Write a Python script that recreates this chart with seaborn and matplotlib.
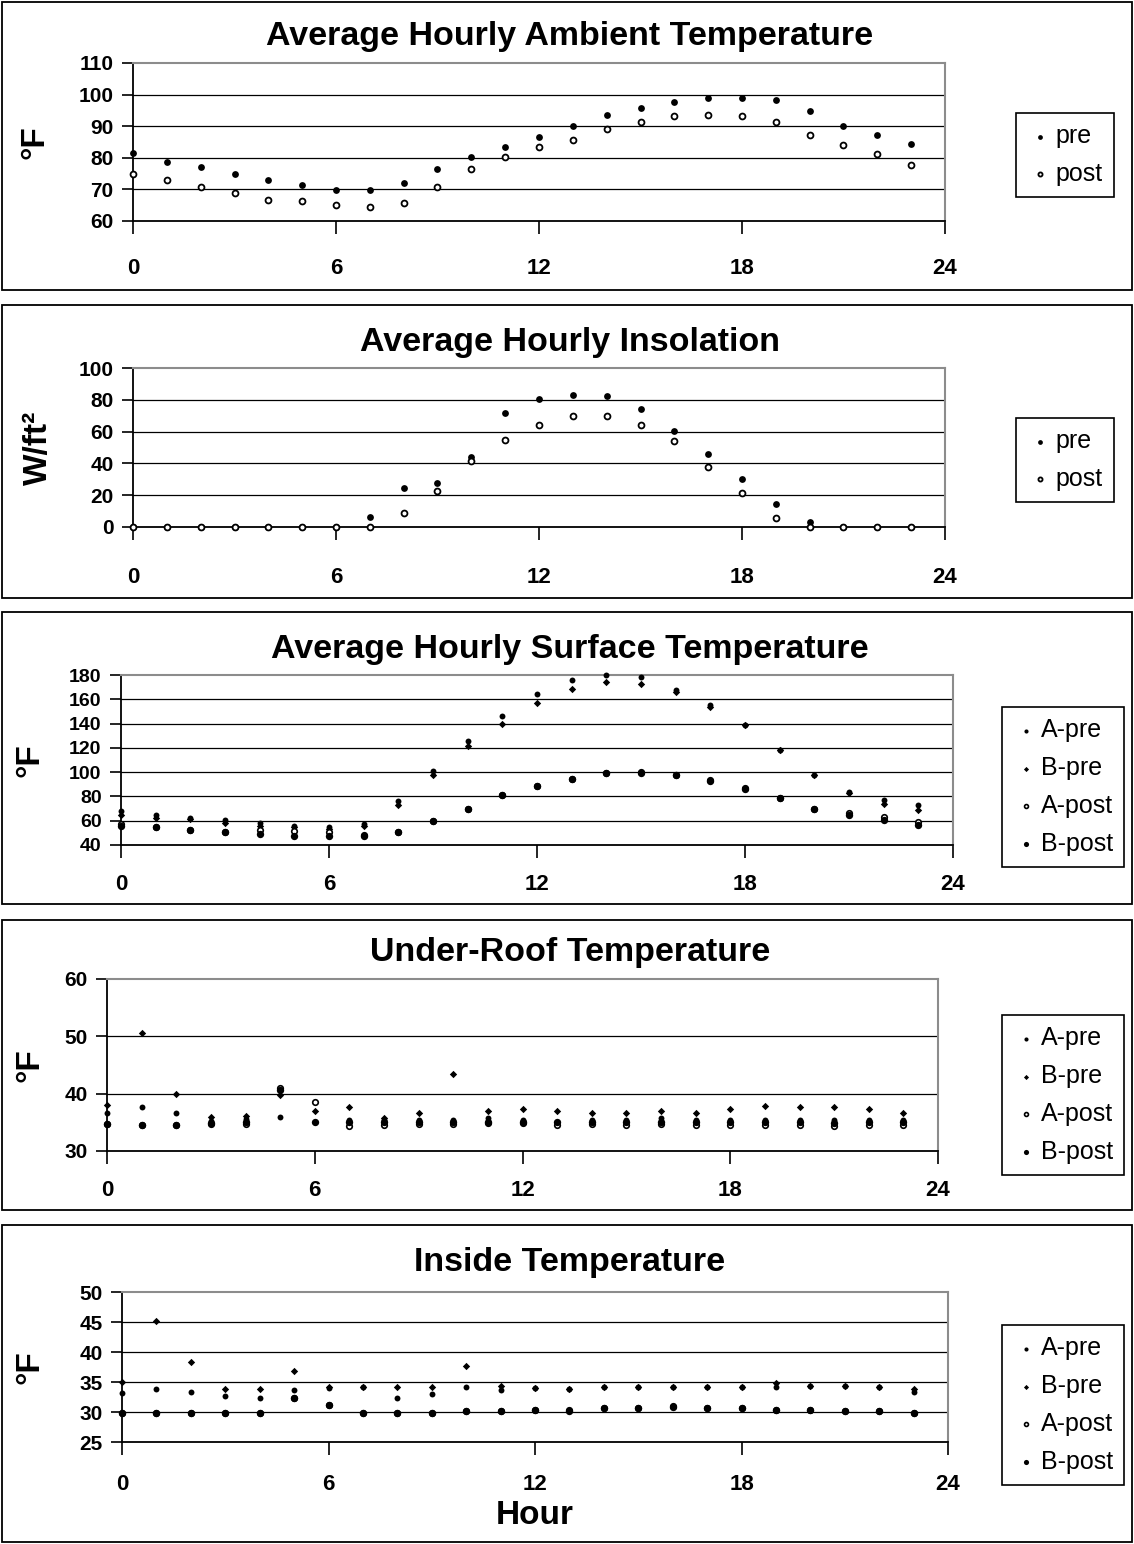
import matplotlib
matplotlib.use('Agg')
import numpy as np
import matplotlib.pyplot as plt
from matplotlib.patches import Rectangle
import seaborn as sns

hours = list(range(24))

# ambient temperature (F)
amb_pre = [81.6, 78.7, 77.0, 74.8, 73.1, 71.4, 69.7, 69.7, 71.9, 76.5, 80.4, 83.4,
           86.7, 90.2, 93.7, 95.9, 97.7, 98.8, 98.8, 98.3, 94.8, 90.2, 87.3, 84.5]
amb_post = [74.8, 73.1, 70.8, 69.0, 66.7, 66.2, 65.0, 64.5, 65.6, 70.8, 76.5, 80.4,
            83.4, 85.6, 89.0, 91.4, 93.1, 93.7, 93.1, 91.4, 87.3, 83.9, 81.1, 77.7]

# insolation (W/ft2)
ins_pre = [0, 0, 0, 0, 0, 0, 0, 6.5, 24.5, 27.9, 43.8, 71.8,
           80.8, 83.1, 82.1, 74.1, 60.5, 45.9, 30.2, 14.5, 3.1, 0, 0, 0]
ins_post = [0, 0, 0, 0, 0, 0, 0, 0, 8.8, 22.4, 41.7, 54.9,
            63.9, 69.5, 69.5, 63.9, 53.8, 37.9, 21.2, 5.4, 0, 0, 0, 0]

# surface temperature (F)
surf_a_pre = [68, 65, 62, 60.5, 58, 55.6, 54.5, 57.5, 76, 101, 126, 146,
              164, 176, 180, 178, 168, 155, 139, 118, 98, 83.5, 77, 73]
surf_b_pre = [65, 62, 61, 58, 55.5, 55, 53, 56, 73, 98, 121.5, 140,
              157, 168.5, 174.5, 173, 166, 154, 139, 118, 98, 83, 74, 68.5]
surf_a_post = [57, 55, 52.5, 51, 52, 51.5, 51, 48, 51, 60, 70, 81,
               89, 94, 99, 100, 98, 93.5, 87, 79, 70, 66, 63, 59]
surf_b_post = [56, 55, 52, 51, 49, 47.5, 47.5, 47.5, 51, 60, 70, 81,
               88.5, 94, 99, 99.5, 98, 93, 86, 79, 70, 65, 60.5, 56.5]

# under-roof temperature (F)
ur_a_pre = [36.7, 37.6, 36.6, 35.2, 35.5, 36.0, 35.1, 35.4, 35.4, 35.4, 35.4, 35.7,
            35.4, 35.1, 35.4, 35.4, 35.8, 35.4, 35.4, 35.4, 35.4, 35.4, 35.4, 35.4]
ur_b_pre = [38.0, 50.6, 40.0, 36.0, 36.1, 39.8, 37.0, 37.6, 35.7, 36.6, 43.5, 37.0,
            37.3, 37.0, 36.6, 36.6, 37.0, 36.6, 37.3, 37.9, 37.6, 37.6, 37.3, 36.6]
ur_a_post = [34.7, 34.5, 34.5, 34.7, 34.7, 41.0, 38.5, 34.3, 34.6, 34.7, 34.7, 34.8,
             34.8, 34.6, 34.7, 34.6, 34.7, 34.6, 34.6, 34.6, 34.6, 34.3, 34.6, 34.6]
ur_b_post = [34.7, 34.5, 34.5, 34.9, 35.0, 40.6, 35.1, 35.0, 35.0, 35.0, 35.0, 35.0,
             35.0, 35.0, 35.0, 35.0, 35.0, 35.0, 35.0, 35.0, 35.0, 34.8, 35.0, 35.0]

# inside temperature (F)
in_a_pre = [33.2, 33.9, 33.3, 32.7, 32.4, 33.6, 34.0, 34.2, 32.4, 33.0, 34.2, 33.7,
            34.0, 33.8, 34.1, 34.1, 34.1, 34.1, 34.2, 34.2, 34.4, 34.4, 34.2, 33.3]
in_b_pre = [35.0, 45.2, 38.4, 33.9, 33.9, 36.8, 34.2, 34.2, 34.2, 34.2, 37.7, 34.3,
            34.0, 33.8, 34.1, 34.1, 34.1, 34.1, 34.2, 34.9, 34.4, 34.4, 34.2, 33.9]
in_a_post = [29.8, 29.8, 29.8, 29.8, 29.8, 32.4, 31.2, 29.8, 29.8, 29.8, 30.1, 30.1,
             30.3, 30.3, 30.7, 30.7, 31.0, 30.7, 30.7, 30.3, 30.3, 30.1, 30.1, 29.8]
in_b_post = [29.9, 29.8, 29.9, 29.8, 29.9, 32.4, 31.2, 29.9, 29.8, 29.9, 30.1, 30.1,
             30.3, 30.2, 30.7, 30.6, 30.9, 30.7, 30.7, 30.3, 30.3, 30.1, 30.1, 29.8]

sns.set_style("white")
plt.rcParams['font.family'] = ['Liberation Sans', 'DejaVu Sans']
plt.rcParams['font.weight'] = 'bold'
plt.rcParams['text.color'] = 'black'
plt.rcParams['xtick.color'] = 'black'
plt.rcParams['ytick.color'] = 'black'
plt.rcParams['axes.labelcolor'] = 'black'

W, H = 1134, 1544
fig = plt.figure(figsize=(W / 100, H / 100), dpi=100)


def px_axes(l, t, r, b):
    return fig.add_axes([l / W, 1 - b / H, (r - l) / W, (b - t) / H])


def frame(t, b):
    fig.add_artist(Rectangle((2 / W, 1 - b / H), 1130 / W, (b - t) / H,
                             transform=fig.transFigure, fill=False,
                             ec='black', lw=1.3))


# marker styles for the series
styles = {
    'pre': dict(marker='o', s=24, color='black', edgecolor='black', linewidth=0),
    'post': dict(marker='o', s=18, color='white', edgecolor='black', linewidth=1.3),
    'A-pre': dict(marker='o', s=18, color='black', edgecolor='black', linewidth=0),
    'B-pre': dict(marker='D', s=14, color='black', edgecolor='black', linewidth=0),
    'A-post': dict(marker='o', s=16, color='white', edgecolor='black', linewidth=1.2),
    'B-post': dict(marker='o', s=28, color='black', edgecolor='black', linewidth=0),
}


def panel(box, ylim, yticks, series, title, title_y, ylabel, ylabel_x, leg_c,
          xlab_pad, ysize=15):
    l, t, r, b = box
    ax = px_axes(l, t, r, b)
    for name, vals in series:
        sns.scatterplot(x=hours, y=vals, ax=ax, label=name, zorder=3,
                        clip_on=False, **styles[name])
    ax.set_xlim(0, 24)
    ax.set_ylim(*ylim)
    ax.set_xticks([0, 6, 12, 18, 24])
    ax.set_yticks(yticks)
    for y in yticks[1:-1]:
        ax.axhline(y, color='black', lw=0.9, zorder=1)
    for s in ['top', 'right']:
        ax.spines[s].set_color('#8c8c8c')
        ax.spines[s].set_linewidth(1.5)
    for s in ['left', 'bottom']:
        ax.spines[s].set_color('black')
        ax.spines[s].set_linewidth(1.3)
    ax.tick_params(axis='x', direction='out', length=9, width=1.2,
                   pad=xlab_pad, labelsize=16, color='black')
    ax.tick_params(axis='y', direction='out', length=8, width=1.2,
                   pad=6, labelsize=ysize, color='black')
    ax.xaxis.set_ticks_position('bottom')
    ax.yaxis.set_ticks_position('left')
    ax.set_xlabel('')
    ax.set_ylabel('')
    fig.text(570 / W, 1 - title_y / H, title, ha='center',
             va='center', fontsize=24.5, fontweight='bold')
    fig.text(ylabel_x / W, 1 - (t + b) / 2 / H, ylabel, ha='center',
             va='center', rotation=90, fontsize=24, fontweight='bold')
    handles, labels = ax.get_legend_handles_labels()
    leg = ax.legend(handles, labels, loc='center',
                    bbox_to_anchor=(leg_c[0] / W, 1 - leg_c[1] / H),
                    bbox_transform=fig.transFigure,
                    prop={'size': 18, 'weight': 'normal'},
                    frameon=True, fancybox=False, edgecolor='black',
                    framealpha=1, handletextpad=0.1, handlelength=1.0,
                    labelspacing=0.55, borderpad=0.45, markerscale=0.7)
    leg.get_frame().set_linewidth(1.2)
    return ax


frame(2, 290)
panel((133, 63, 945, 221), (60, 110), [60, 70, 80, 90, 100, 110],
      [('pre', amb_pre), ('post', amb_post)],
      'Average Hourly Ambient Temperature', 37, '°F', 35, (1065, 155), 18)

frame(305, 598)
panel((133, 368, 945, 527), (0, 100), [0, 20, 40, 60, 80, 100],
      [('pre', ins_pre), ('post', ins_post)],
      'Average Hourly Insolation', 343, 'W/ft²', 38, (1065, 460), 20)

frame(612, 904)
panel((121, 675, 953, 845), (40, 180), [40, 60, 80, 100, 120, 140, 160, 180],
      [('A-pre', surf_a_pre), ('B-pre', surf_b_pre),
       ('A-post', surf_a_post), ('B-post', surf_b_post)],
      'Average Hourly Surface Temperature', 650, '°F', 30, (1063, 787), 12,
      ysize=14)

frame(920, 1210)
panel((107, 979, 938, 1151), (30, 60), [30, 40, 50, 60],
      [('A-pre', ur_a_pre), ('B-pre', ur_b_pre),
       ('A-post', ur_a_post), ('B-post', ur_b_post)],
      'Under-Roof Temperature', 953, '°F', 30, (1063, 1095), 12)

frame(1225, 1542)
ax5 = panel((122, 1292, 948, 1442), (25, 50), [25, 30, 35, 40, 45, 50],
            [('A-pre', in_a_pre), ('B-pre', in_b_pre),
             ('A-post', in_a_post), ('B-post', in_b_post)],
            'Inside Temperature', 1263, '°F', 30, (1063, 1405), 14)
fig.text(535 / W, 1 - 1515 / H, 'Hour', ha='center', va='center',
         fontsize=24, fontweight='bold')

plt.savefig('out.png', dpi=100)
plt.close()
